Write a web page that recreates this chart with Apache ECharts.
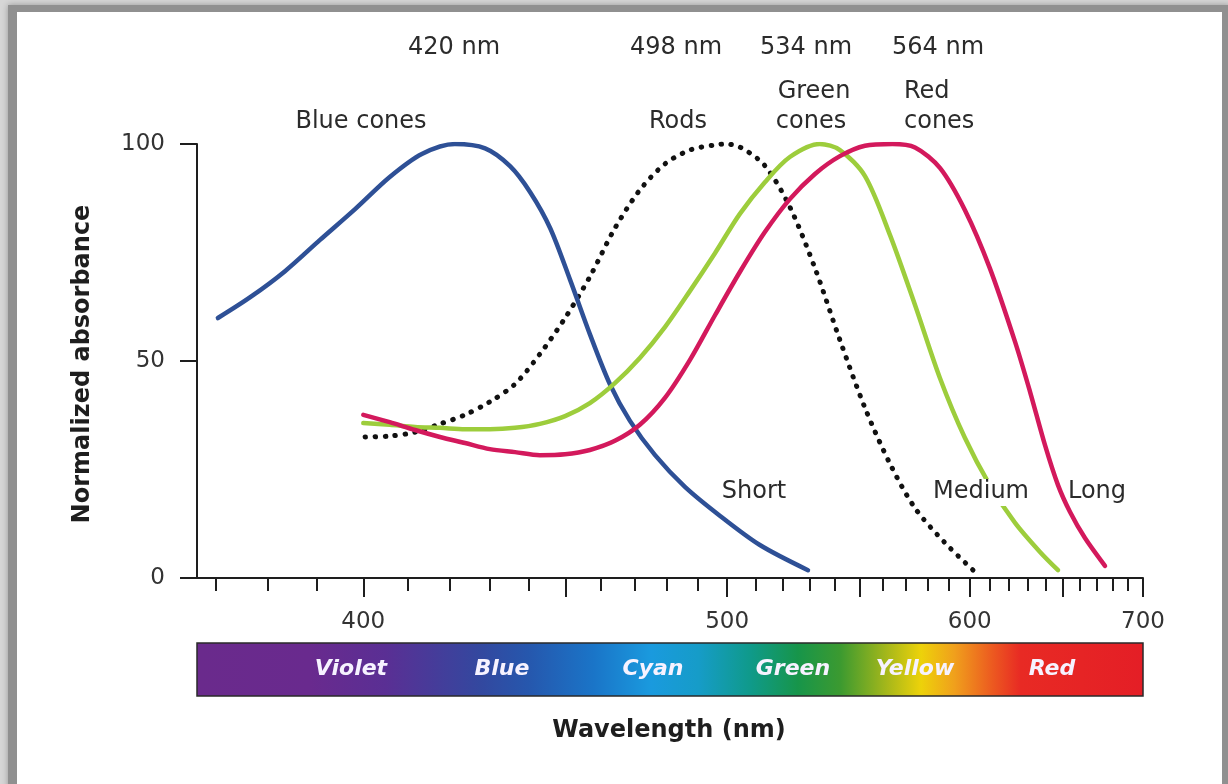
<!DOCTYPE html>
<html>
<head>
<meta charset="utf-8">
<script src="https://cdn.jsdelivr.net/npm/echarts@6/dist/echarts.min.js"></script>
<style>html,body{margin:0;padding:0;background:#fff}#c{width:1228px;height:784px}</style>
</head>
<body>
<div id="c"></div>
<script>
// ---- data (wavelength in nm, normalized absorbance) ----
const blueNm  = [370.4, 376.6, 383.5, 390.7, 398.2, 405.9, 413.3, 421.2, 428.7, 435.1, 440.4, 445.8, 451.3, 456.9, 462.7, 468.7, 476.4, 485.9, 497.6, 511.5, 529.4];
const blueVal = [59.9, 64.7, 70.7, 77.9, 85.0, 92.4, 97.7, 100, 99.0, 94.9, 88.9, 80.6, 68.7, 56.2, 44.7, 36.2, 28.3, 21.0, 14.3, 7.6, 1.8];

const rodNm  = [400.4, 405.9, 411.7, 417.6, 423.7, 429.9, 436.4, 443.0, 449.9, 456.9, 464.2, 471.7, 479.5, 487.5, 495.9, 499.0, 504.4, 513.3, 522.5, 532.1, 542.0, 552.3, 563.0, 574.1, 588.0, 602.6];
const rodVal = [32.5, 32.7, 33.6, 35.5, 37.6, 40.6, 44.7, 51.6, 59.9, 69.4, 80.6, 89.4, 95.4, 98.6, 99.8, 100, 99.3, 95.0, 85.5, 71.4, 54.8, 39.2, 26.3, 16.1, 8.1, 1.4];

const greenNm  = [400.0, 405.9, 411.7, 417.6, 423.7, 429.9, 436.4, 443.0, 449.9, 456.9, 464.2, 471.7, 479.5, 487.5, 495.9, 504.4, 513.3, 522.5, 534.0, 542.0, 552.3, 563.0, 574.1, 585.6, 597.6, 610.1, 623.3, 636.9, 647.1];
const greenVal = [35.7, 35.3, 34.8, 34.6, 34.3, 34.3, 34.6, 35.5, 37.3, 40.3, 44.9, 50.7, 57.8, 66.1, 74.9, 83.9, 91.2, 97.0, 100, 98.6, 92.6, 79.0, 62.9, 46.1, 32.3, 21.4, 12.7, 6.0, 1.8];

const redNm  = [400.0, 405.9, 411.7, 417.6, 423.7, 429.9, 436.4, 443.0, 449.9, 456.9, 464.2, 471.7, 479.5, 487.5, 495.9, 504.4, 513.3, 522.5, 532.1, 542.0, 552.3, 564.0, 574.1, 585.6, 597.6, 610.1, 623.3, 631.4, 639.7, 647.1, 654.1, 663.0, 675.3];
const redVal = [37.6, 35.9, 34.1, 32.5, 31.1, 29.7, 29.0, 28.3, 28.5, 29.5, 31.6, 35.3, 41.5, 50.2, 60.6, 70.5, 79.7, 87.3, 93.1, 97.2, 99.6, 100, 99.2, 94.5, 84.8, 71.4, 54.4, 42.9, 30.6, 21.4, 15.2, 9.2, 2.8];

const xLabelNm    = [400, 500, 600, 700];
const majorTickNm = [400, 450, 500, 550, 600, 650, 700];
const minorTickNm = [370, 380, 390, 400, 410, 420, 430, 440, 450, 460, 470, 480, 490, 500, 510, 520, 530, 540, 550, 560, 570, 580, 590, 600, 610, 620, 630, 640, 650, 660, 670, 680, 690, 700];
const yTicks = [0, 50, 100];

const peakLabels = ['420 nm', '498 nm', '534 nm', '564 nm'];
const spectrumNames = ['Violet', 'Blue', 'Cyan', 'Green', 'Yellow', 'Red'];

// The wavelength axis is drawn linear in wavenumber (1/λ), as in the original figure.
// Axis value = -1e5/λ, so it increases with wavelength from left to right.
const toU = nm => -1e5 / nm;
const fromU = u => -1e5 / u;
const pairs = (xs, ys) => xs.map((x, i) => [toU(x), ys[i]]);

const FONT = 'DejaVu Sans';
const chart = echarts.init(document.getElementById('c'), null, {renderer: 'canvas'});

const xMin = toU(366.5), xMax = toU(700);

function txt(text, x, y, opt) {
  opt = opt || {};
  return {
    type: 'text', z: 100,
    rotation: opt.rotation || 0,
    x: opt.rotation ? x : 0, y: opt.rotation ? y : 0,
    style: {
      text: text,
      x: opt.rotation ? 0 : x, y: opt.rotation ? 0 : y,
      fill: opt.fill || '#2b2b2b',
      font: (opt.style || 'normal') + ' ' + (opt.weight || 'normal') + ' ' + (opt.size || 24) + 'px "' + FONT + '"',
      textAlign: opt.align || 'center',
      textVerticalAlign: 'middle'
    }
  };
}

const spectrumStops = [
  [0, '#6a2a8c'], [0.12, '#692a8e'], [0.2, '#5a2f94'], [0.3, '#33489f'], [0.35, '#2657ad'],
  [0.42, '#1a75c8'], [0.48, '#1a9ade'], [0.53, '#169cc8'], [0.585, '#0f9a8a'], [0.635, '#17954a'],
  [0.68, '#3c9a30'], [0.73, '#a8b81a'], [0.765, '#edd20a'], [0.8, '#f0a01c'], [0.84, '#ec5a20'],
  [0.87, '#e82a24'], [1, '#e41e26']
];

const graphics = [
  // frame
  {type: 'rect', z: -10, shape: {x: 0, y: 0, width: 1228, height: 784}, style: {fill: '#d6d6d6'}},
  {type: 'rect', z: -9, shape: {x: 8, y: 5, width: 1222, height: 800}, style: {fill: '#909090', shadowBlur: 6, shadowColor: 'rgba(0,0,0,0.3)'}},
  {type: 'rect', z: -8, shape: {x: 17, y: 12, width: 1205, height: 800}, style: {fill: '#ffffff'}},
  // spectrum bar
  {type: 'rect', z: 20, shape: {x: 197, y: 643, width: 946, height: 53},
   style: {fill: {type: 'linear', x: 0, y: 0, x2: 1, y2: 0, colorStops: spectrumStops.map(s => ({offset: s[0], color: s[1]}))},
           stroke: '#2a2a2a', lineWidth: 1.5}},
  // white halo behind "Medium"
  {type: 'rect', z: 90, shape: {x: 928, y: 479, width: 106, height: 27}, style: {fill: '#ffffff'}},
  txt(peakLabels[0], 454, 48), txt(peakLabels[1], 676, 48), txt(peakLabels[2], 806, 48), txt(peakLabels[3], 938, 48),
  txt('Blue cones', 361, 122), txt('Rods', 678, 122),
  txt('Green', 814, 92), txt('cones', 811, 122),
  txt('Red', 904, 92, {align: 'left'}), txt('cones', 904, 122, {align: 'left'}),
  txt('Short', 754, 492), txt('Medium', 981, 492), txt('Long', 1097, 492),
  txt('Normalized absorbance', 83, 364, {rotation: Math.PI / 2, weight: 'bold', fill: '#1e1e1e'}),
  txt('Wavelength (nm)', 669, 731, {weight: 'bold', fill: '#1e1e1e'})
];
const specX = [351, 502, 653, 793, 915, 1052];
spectrumNames.forEach((n, i) => graphics.push(txt(n, specX[i], 669, {weight: 'bold', style: 'italic', size: 22, fill: '#f6f2ff'})));

const lineSeries = (name, xs, ys, color, dotted) => ({
  name, type: 'line', xAxisIndex: 0, yAxisIndex: 0,
  data: pairs(xs, ys), showSymbol: false, smooth: 0.3, z: dotted ? 3 : 4,
  lineStyle: dotted ? {color: color, width: 5, type: [0.5, 9.5], cap: 'round'} : {color: color, width: 4.5, cap: 'round', join: 'round'},
  emphasis: {disabled: true}
});

chart.setOption({
  animation: false,
  backgroundColor: '#ffffff',
  grid: {left: 197, right: 85, top: 144, bottom: 206, containLabel: false, outerBoundsMode: 'none'},
  xAxis: [
    {type: 'value', min: xMin, max: xMax, position: 'bottom',
     axisLine: {show: true, onZero: false, lineStyle: {color: '#1e1e1e', width: 2}},
     axisTick: {show: true, length: 13, customValues: minorTickNm.map(toU), lineStyle: {color: '#1e1e1e', width: 2}},
     axisLabel: {show: true, customValues: xLabelNm.map(toU), margin: 33, formatter: v => String(Math.round(fromU(v))),
                 color: '#333', fontFamily: FONT, fontSize: 23},
     splitLine: {show: false}},
    {type: 'value', min: xMin, max: xMax, position: 'bottom', gridIndex: 0,
     axisLine: {show: false, onZero: false},
     axisTick: {show: true, length: 19, customValues: majorTickNm.map(toU), lineStyle: {color: '#1e1e1e', width: 2}},
     axisLabel: {show: false},
     splitLine: {show: false}}
  ],
  yAxis: {type: 'value', min: 0, max: 100, interval: 50,
    axisLine: {show: true, lineStyle: {color: '#1e1e1e', width: 2}},
    axisTick: {show: true, length: 17, customValues: yTicks, lineStyle: {color: '#1e1e1e', width: 2}},
    axisLabel: {margin: 32, color: '#333', fontFamily: FONT, fontSize: 23, customValues: yTicks},
    splitLine: {show: false}},
  graphic: graphics,
  series: [
    lineSeries('Blue cones', blueNm, blueVal, '#2e5096', false),
    lineSeries('Rods', rodNm, rodVal, '#111111', true),
    lineSeries('Green cones', greenNm, greenVal, '#9dcd3c', false),
    lineSeries('Red cones', redNm, redVal, '#d3195c', false)
  ]
});
</script>
</body>
</html>
